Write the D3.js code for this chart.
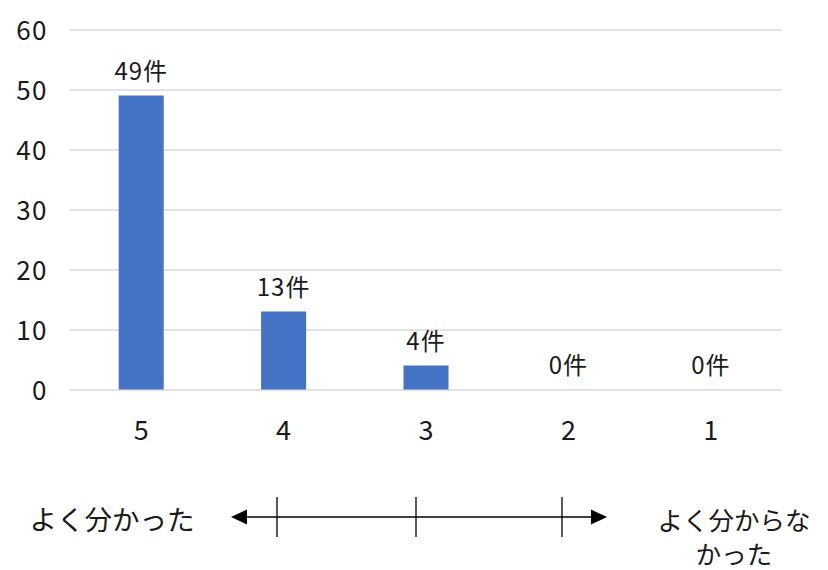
<!DOCTYPE html>
<html>
<head>
<meta charset="utf-8">
<script src="https://cdn.jsdelivr.net/npm/d3@7"></script>
<style>
  html, body { margin: 0; padding: 0; background: #fff; }
  svg { display: block; }
  svg text { font-family: "Noto Sans CJK JP", "Noto Sans", sans-serif; }
</style>
</head>
<body>
<svg id="chart" width="828" height="570"></svg>
<script>
// Survey response counts per rating (5 = understood well, 1 = did not understand)
const categories = ["5", "4", "3", "2", "1"];
const counts = [49, 13, 4, 0, 0];
const yTicks = [0, 10, 20, 30, 40, 50, 60];
const unit = "件";
const leftLabel = "よく分かった";
const rightLabel = ["よく分からな", "かった"];

const svg = d3.select("#chart");
const plot = { left: 70, right: 782, top: 29.5, bottom: 389.5 };
const ink = "#1a1a1a";

const x = d3.scaleBand()
  .domain(categories)
  .range([plot.left, plot.right])
  .paddingInner(0.684)
  .paddingOuter(0.342);

const y = d3.scaleLinear()
  .domain([0, 60])
  .range([plot.bottom, plot.top]);

// Horizontal gridlines with value labels on the left
const yAxis = d3.axisLeft(y)
  .tickValues(yTicks)
  .tickSize(-(plot.right - plot.left))
  .tickPadding(22)
  .tickFormat(d3.format("d"));

const gy = svg.append("g")
  .attr("transform", `translate(${plot.left},0)`)
  .call(yAxis)
  .attr("font-family", null);
gy.select(".domain").remove();
gy.selectAll(".tick line")
  .attr("stroke", "#d9d9d9")
  .attr("stroke-width", 1.6);
gy.selectAll(".tick text")
  .attr("fill", ink)
  .attr("font-size", 26)
  .attr("letter-spacing", 1.5)
  .attr("dy", "0.4em");

// Bars
const rows = categories.map((c, i) => ({ c, v: counts[i] }));
svg.append("g")
  .selectAll("rect")
  .data(rows)
  .join("rect")
  .attr("x", d => x(d.c))
  .attr("y", d => y(d.v))
  .attr("width", x.bandwidth())
  .attr("height", d => y(0) - y(d.v))
  .attr("fill", "#4472c4");

// Value labels above bars
svg.append("g")
  .selectAll("text")
  .data(rows)
  .join("text")
  .attr("x", d => x(d.c) + x.bandwidth() / 2)
  .attr("y", d => y(d.v) - 15.5)
  .attr("text-anchor", "middle")
  .attr("font-size", 24)
  .attr("letter-spacing", 1)
  .attr("fill", ink)
  .text(d => d.v + unit);

// Category labels below the plot
const xAxis = d3.axisBottom(x).tickSize(0).tickPadding(31);
const gx = svg.append("g")
  .attr("transform", `translate(0,${plot.bottom})`)
  .call(xAxis)
  .attr("font-family", null);
gx.select(".domain").remove();
gx.selectAll(".tick text")
  .attr("fill", ink)
  .attr("font-size", 27);

// Rating direction scale: double-headed arrow with three ticks
const scaleY = 517;
const arrowLeft = 231, arrowRight = 607;
const arrowTicks = [277, 416, 562];
const g = svg.append("g").attr("stroke", "#000").attr("stroke-width", 1.3);
g.append("line")
  .attr("x1", arrowLeft + 14).attr("x2", arrowRight - 14)
  .attr("y1", scaleY).attr("y2", scaleY);
g.selectAll("line.tk")
  .data(arrowTicks)
  .join("line")
  .attr("class", "tk")
  .attr("x1", d => d).attr("x2", d => d)
  .attr("y1", scaleY - 20).attr("y2", scaleY + 20);
svg.append("path")
  .attr("d", `M${arrowLeft},${scaleY} L${arrowLeft + 16},${scaleY - 7.5} L${arrowLeft + 16},${scaleY + 7.5} Z`)
  .attr("fill", "#000");
svg.append("path")
  .attr("d", `M${arrowRight},${scaleY} L${arrowRight - 16},${scaleY - 7.5} L${arrowRight - 16},${scaleY + 7.5} Z`)
  .attr("fill", "#000");

svg.append("text")
  .attr("x", 112)
  .attr("y", 530)
  .attr("text-anchor", "middle")
  .attr("font-size", 27.5)
  .attr("fill", ink)
  .text(leftLabel);

svg.append("g")
  .selectAll("text")
  .data(rightLabel)
  .join("text")
  .attr("x", 734)
  .attr("y", (d, i) => 530 + i * 34)
  .attr("text-anchor", "middle")
  .attr("font-size", 25.5)
  .attr("fill", ink)
  .text(d => d);
</script>
</body>
</html>
